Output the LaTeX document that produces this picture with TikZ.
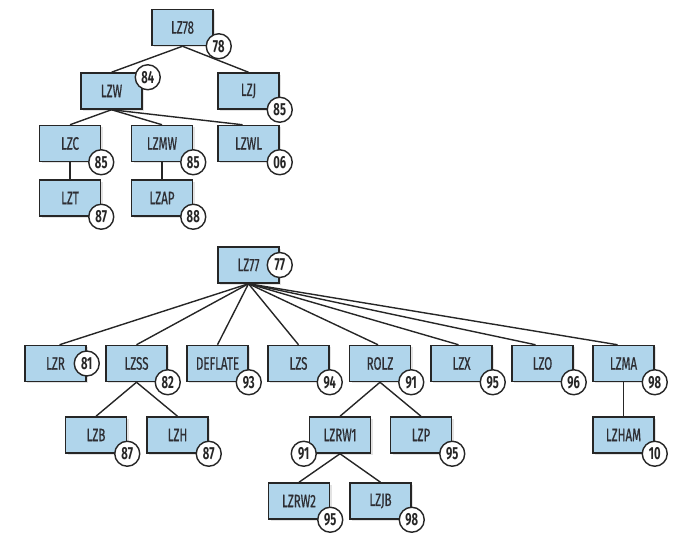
\documentclass[tikz,border=0pt]{standalone}
\usepackage{fontspec}
\setmainfont{Fira Sans}[FakeStretch=0.64]
\usetikzlibrary{shadows}
\definecolor{boxblue}{RGB}{176,213,235}
\definecolor{ink}{RGB}{38,38,38}
\definecolor{txt}{RGB}{45,45,50}
\tikzset{
  algo/.style={draw=ink, line width=1.5pt, fill=boxblue, minimum width=61pt,
    minimum height=36pt, inner sep=0pt,
    font=\addfontfeatures{FakeBold=0.6}\fontsize{18}{20}\selectfont,
    text=txt, drop shadow={shadow xshift=2pt, shadow yshift=-2pt, opacity=0.22}},
  year/.style={circle, draw=ink, line width=1.4pt, fill=white, minimum size=25pt,
    inner sep=0pt, font=\fontsize{17.5}{19}\selectfont\bfseries, text=ink},
  link/.style={draw=ink, line width=1.4pt}
}
\begin{document}
\begin{tikzpicture}[x=1pt, y=-1pt]
\useasboundingbox (0,0) rectangle (675,534);

% ---- LZ78 family ----
\node[algo] (lz78) at (182.5,27.5) {LZ78};
\node[algo] (lzw)  at (111.5,91)   {LZW};
\node[algo] (lzj)  at (248.5,91)   {LZJ};
\node[algo] (lzc)  at (70,143.5)   {LZC};
\node[algo] (lzmw) at (162,143.5)  {LZMW};
\node[algo] (lzwl) at (248.5,143.5){LZWL};
\node[algo] (lzt)  at (70,198)     {LZT};
\node[algo] (lzap) at (162,198)    {LZAP};

\draw[link] (lz78.south) -- (lzw.north);
\draw[link] (lz78.south) -- (lzj.north);
\draw[link] (lzw.south) -- (lzc.north);
\draw[link] (lzw.south) -- (lzmw.north);
\draw[link] (lzw.south) -- ([xshift=-6pt]lzwl.north);
\draw[link] (lzc.south) -- (lzt.north);
\draw[link] (lzmw.south) -- (lzap.north);

\node[year] (y78)  at ([xshift=5pt]lz78.south east) {78};
\node[year] (y84)  at ([xshift=5pt,yshift=-5pt]lzw.north east) {84};
\node[year] (y85a) at (lzj.south east)  {85};
\node[year] (y85b) at (lzc.south east)  {85};
\node[year] (y85c) at (lzmw.south east) {85};
\node[year] (y06)  at (lzwl.south east) {06};
\node[year] (y87a) at (lzt.south east)  {87};
\node[year] (y88)  at (lzap.south east) {88};

% ---- LZ77 family ----
\node[algo] (lz77)    at (248.5,265)  {LZ77};
\node[algo] (lzr)     at (55.5,363.5) {LZR};
\node[algo] (lzss)    at (136.5,363.5){LZSS};
\node[algo] (deflate) at (217.5,363.5){DEFLATE};
\node[algo] (lzs)     at (298.5,363.5){LZS};
\node[algo] (rolz)    at (380,363.5)  {ROLZ};
\node[algo] (lzx)     at (461.5,363.5){LZX};
\node[algo] (lzo)     at (542.5,363.5){LZO};
\node[algo] (lzma)    at (623.5,363.5){LZMA};
\node[algo] (lzb)     at (96,435)     {LZB};
\node[algo] (lzh)     at (177.5,435)  {LZH};
\node[algo] (lzrwa)   at (340,435)    {LZRW1};
\node[algo] (lzp)     at (421,435)    {LZP};
\node[algo] (lzham)   at (623.5,435)  {LZHAM};
\node[algo] (lzrwb)   at (299,501)    {LZRW2};
\node[algo] (lzjb)    at (380.5,501)  {LZJB};

\foreach \c/\dx in {lzr/4, lzss/0, deflate/0, lzs/0, rolz/-2, lzx/-3, lzo/-7, lzma/-6}
  \draw[link] (lz77.south) -- ([xshift=\dx pt]\c.north);
\draw[link] (lzss.south) -- (lzb.north);
\draw[link] (lzss.south) -- (lzh.north);
\draw[link] (rolz.south) -- (lzrwa.north);
\draw[link] (rolz.south) -- (lzp.north);
\draw[link] (lzma.south) -- (lzham.north);
\draw[link] (lzrwa.south) -- (lzrwb.north);
\draw[link] (lzrwa.south) -- (lzjb.north);

\node[year] (y77)  at (lz77.east)          {77};
\node[year] (y81)  at (lzr.east)           {81};
\node[year] (y82)  at (lzss.south east)    {82};
\node[year] (y93)  at (deflate.south east) {93};
\node[year] (y94)  at (lzs.south east)     {94};
\node[year] (y91a) at (rolz.south east)    {91};
\node[year] (y95a) at (lzx.south east)     {95};
\node[year] (y96)  at (lzo.south east)     {96};
\node[year] (y98a) at (lzma.south east)    {98};
\node[year] (y87b) at (lzb.south east)     {87};
\node[year] (y87c) at (lzh.south east)     {87};
\node[year] (y91b) at ([xshift=-5pt]lzrwa.south west) {91};
\node[year] (y95b) at (lzp.south east)     {95};
\node[year] (y10)  at (lzham.south east)   {10};
\node[year] (y95c) at (lzrwb.south east)   {95};
\node[year] (y98b) at (lzjb.south east)    {98};
\end{tikzpicture}
\end{document}
